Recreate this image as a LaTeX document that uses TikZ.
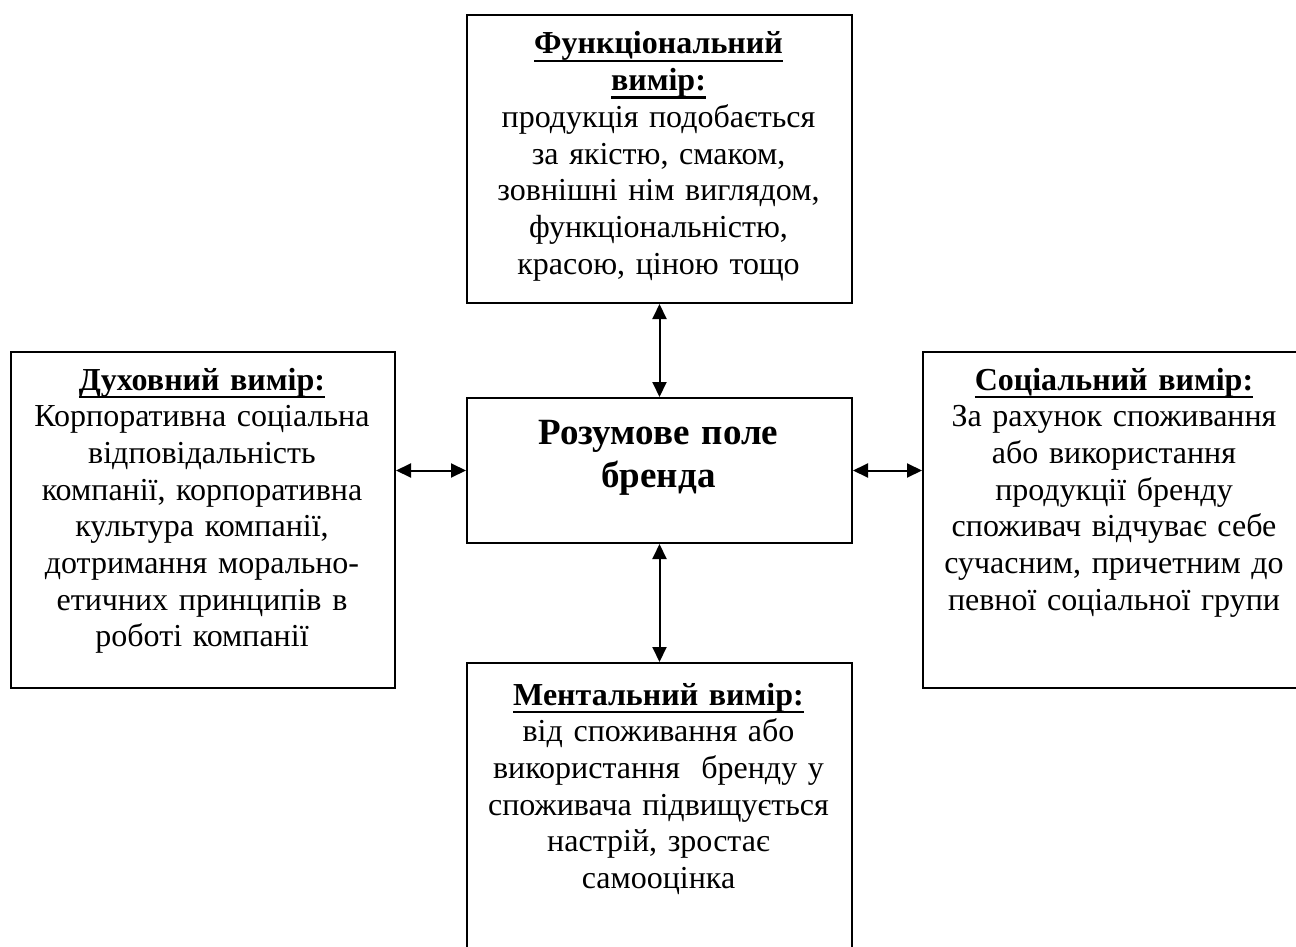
\documentclass[tikz,border=0pt]{standalone}
\usepackage{fontspec}
\setmainfont{Liberation Serif}
\usetikzlibrary{arrows.meta}
\newcommand\ulb[1]{\sbox0{#1}\rlap{\rule[-4.2pt]{\wd0}{1.4pt}}\usebox0}
\begin{document}
\begin{tikzpicture}[x=0.5pt,y=-0.5pt,
  box/.style={draw, line width=1pt, rectangle, inner sep=0pt, anchor=north west},
  txt/.style={align=center, text width=190pt, font=\fontsize{16pt}{18.35pt}\selectfont, inner sep=0pt, anchor=base},
  ttl/.style={txt, font=\fontsize{18.5pt}{21.5pt}\selectfont\bfseries},
  arr/.style={line width=1pt, {Triangle[length=7.5pt,width=7pt]}-{Triangle[length=7.5pt,width=7pt]}}]
\clip (0,0) rectangle (1296,947);
\node[box, minimum width=192.5pt, minimum height=144pt] (top) at (466,14) {};
\node[box, minimum width=192.5pt, minimum height=72.5pt] (center) at (466,397) {};
\node[box, minimum width=192pt, minimum height=168pt] (left) at (10,351) {};
\node[box, minimum width=192pt, minimum height=168pt] (right) at (922,351) {};
\node[box, minimum width=192.5pt, minimum height=150pt] (bottom) at (466,662) {};

\node[txt] (toptext) at (658.5,54) {\textbf{\ulb{Функціональний}}\\\textbf{\ulb{вимір:}}\\продукція подобається\\за якістю, смаком,\\зовнішні нім виглядом,\\функціональністю,\\красою, ціною тощо};
\node[ttl] (centertext) at (658.5,444) {Розумове поле\\бренда};
\node[txt] (lefttext) at (202,390) {\textbf{\ulb{Духовний вимір:}}\\Корпоративна соціальна\\відповідальність\\компанії, корпоративна\\культура компанії,\\дотримання морально-\\етичних принципів в\\роботі компанії};
\node[txt] (righttext) at (1114,390) {\textbf{\ulb{Соціальний вимір:}}\\За рахунок споживання\\або використання\\продукції бренду\\споживач відчуває себе\\сучасним, причетним до\\певної соціальної групи};
\node[txt] (bottomtext) at (658.5,705) {\textbf{\ulb{Ментальний вимір:}}\\від споживання або\\використання\ \ бренду у\\споживача підвищується\\настрій, зростає\\самооцінка};

\draw[arr] (top.south) -- (center.north);
\draw[arr] (center.south) -- (bottom.north);
\draw[arr] (center.west) -- (center.west -| left.east);
\draw[arr] (center.east) -- (center.east -| right.west);
\end{tikzpicture}
\end{document}
